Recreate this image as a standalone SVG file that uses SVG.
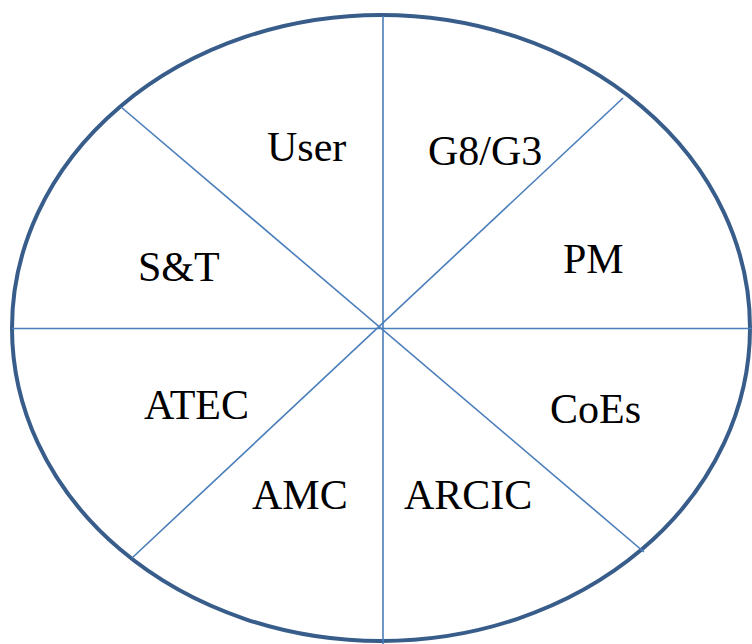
<svg xmlns="http://www.w3.org/2000/svg" width="752" height="644" viewBox="0 0 752 644">
<style>
.lbl{font-family:"Liberation Serif","Times New Roman",serif;font-size:42px;fill:#000}
.ln{stroke:#4A7EBB;stroke-width:1.6;fill:none}
</style>
<rect width="752" height="644" fill="#fff"/>
<g id="circle"><ellipse cx="381" cy="328" rx="369" ry="313" fill="none" stroke="#385D8A" stroke-width="4"/></g>
<g id="connectors">
<line class="ln" x1="383" y1="16" x2="383" y2="644"/>
<line class="ln" x1="12" y1="328.5" x2="752" y2="328.5"/>
<line class="ln" x1="121" y1="107" x2="644" y2="552"/>
<line class="ln" x1="623" y1="98" x2="132" y2="558"/>
</g>
<g id="user"><text class="lbl" x="267" y="161">User</text></g>
<g id="g8g3"><text class="lbl" x="428" y="165">G8/G3</text></g>
<g id="st"><text class="lbl" x="138" y="281">S&amp;T</text></g>
<g id="pm"><text class="lbl" x="563" y="273">PM</text></g>
<g id="atec"><text class="lbl" x="144" y="419">ATEC</text></g>
<g id="coes"><text class="lbl" x="550" y="423">CoEs</text></g>
<g id="amc"><text class="lbl" x="252" y="509">AMC</text></g>
<g id="arcic"><text class="lbl" x="404" y="509">ARCIC</text></g>
</svg>
